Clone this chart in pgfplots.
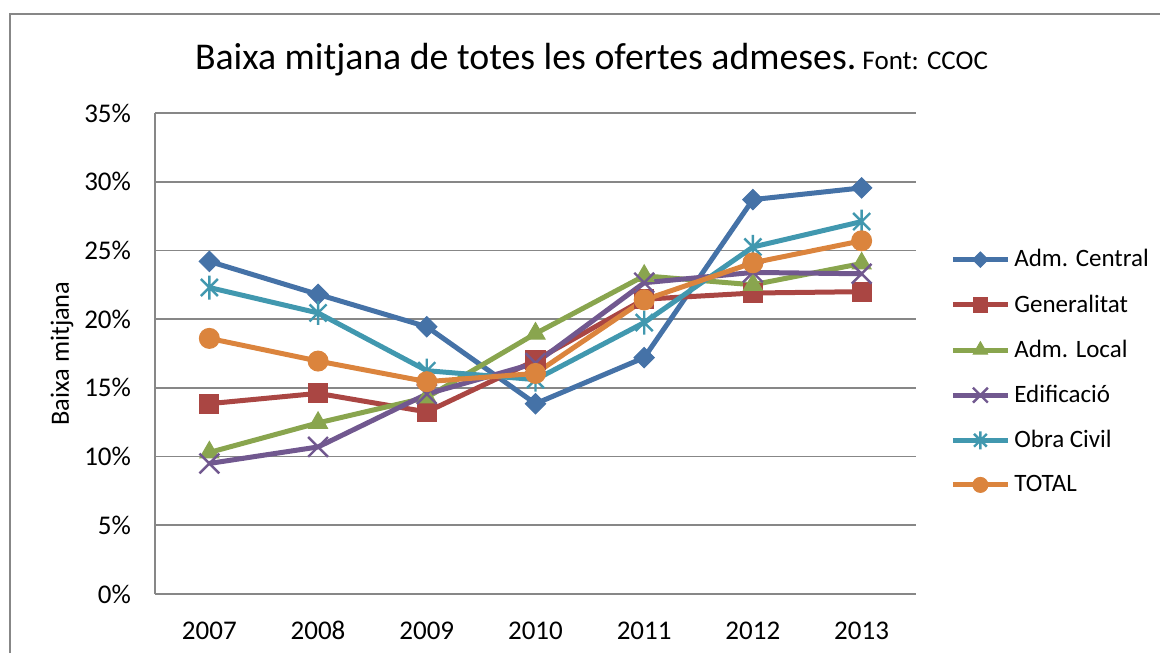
\documentclass[border=0pt]{standalone}
\usepackage{pgfplots}
\pgfplotsset{compat=1.18}
\usepackage{fontspec}
\setmainfont{Carlito}
\definecolor{cA}{HTML}{4572A7}
\definecolor{cB}{HTML}{AA4643}
\definecolor{cC}{HTML}{89A54E}
\definecolor{cD}{HTML}{71588F}
\definecolor{cE}{HTML}{4198AF}
\definecolor{cF}{HTML}{DB843D}
\definecolor{gridc}{HTML}{878787}
\pgfdeclareplotmark{xstar}{%
  \pgfpathmoveto{\pgfqpoint{-.7071\pgfplotmarksize}{-.7071\pgfplotmarksize}}%
  \pgfpathlineto{\pgfqpoint{.7071\pgfplotmarksize}{.7071\pgfplotmarksize}}%
  \pgfpathmoveto{\pgfqpoint{-.7071\pgfplotmarksize}{.7071\pgfplotmarksize}}%
  \pgfpathlineto{\pgfqpoint{.7071\pgfplotmarksize}{-.7071\pgfplotmarksize}}%
  \pgfpathmoveto{\pgfqpoint{0pt}{-\pgfplotmarksize}}%
  \pgfpathlineto{\pgfqpoint{0pt}{\pgfplotmarksize}}%
  \pgfusepathqstroke}
\begin{document}
\begin{tikzpicture}
\path[use as bounding box] (0pt,0pt) rectangle (580pt,326.5pt);
\draw[gridc, line width=0.8pt] (5pt,0pt) -- (5pt,319.5pt) -- (580pt,319.5pt);
\node[anchor=base, inner sep=0pt] at (295.75pt,291.5pt) {\fontsize{18.9}{22}\selectfont Baixa mitjana de totes les ofertes admeses.{\fontsize{13.5}{16}\selectfont\ Font: CCOC}};
\begin{axis}[
  at={(77.5pt,29.5pt)}, anchor=south west,
  scale only axis, width=380.5pt, height=240.5pt,
  xmin=2006.5, xmax=2013.5, ymin=0, ymax=35,
  xtick={2007,...,2013}, ytick={0,5,...,35},
  axis x line*=bottom, axis y line*=left,
  axis line style={gridc, line width=0.8pt},
  major tick length=0pt,
  ymajorgrids, grid style={gridc, line width=0.8pt},
  /pgf/number format/assume math mode=true,
  /pgf/number format/1000 sep={},
  ticklabel style={font=\fontsize{13.5}{16}\selectfont},
  yticklabel={\pgfmathprintnumber{\tick}\%},
  yticklabel style={xshift=-8.5pt},
  xticklabel style={yshift=-10pt, text height=9pt, text depth=0pt},
  ylabel={Baixa mitjana},
  ylabel style={font=\fontsize{13.2}{15}\selectfont, at={(axis description cs:-0.1222,0.5)}, anchor=center},
  every axis plot/.append style={line width=2.5pt, mark options={solid}},
  legend cell align=left,
  legend style={draw=none, fill=none, at={(1,0.4615)}, anchor=west, xshift=17pt,
    font=\fontsize{12.5}{15}\selectfont, row sep=8.4pt, inner sep=0pt},
  legend image code/.code={\draw[mark repeat=2, mark phase=2, every mark/.append style={scale=0.75}] plot coordinates {(0pt,0pt) (13.75pt,0pt) (27.5pt,0pt)};},
]
\addplot[cA, mark=square*, mark size=3.6pt, mark options={rotate=45, line width=0.5pt}] coordinates {
(2007,24.2) (2008,21.8) (2009,19.45) (2010,13.85) (2011,17.2) (2012,28.7) (2013,29.55)};
\addlegendentry{Adm. Central}
\addplot[cB, mark=square*, mark size=4.8pt, mark options={line width=0.5pt}] coordinates {
(2007,13.85) (2008,14.6) (2009,13.25) (2010,17.0) (2011,21.45) (2012,21.9) (2013,22.0)};
\addlegendentry{Generalitat}
\addplot[cC, mark=triangle*, mark size=5.5pt, mark options={line width=0.5pt}] coordinates {
(2007,10.3) (2008,12.45) (2009,14.3) (2010,18.95) (2011,23.15) (2012,22.5) (2013,24.05)};
\addlegendentry{Adm. Local}
\addplot[cD, mark=x, mark size=7pt, mark options={line width=1.2pt}] coordinates {
(2007,9.5) (2008,10.7) (2009,14.55) (2010,16.8) (2011,22.65) (2012,23.4) (2013,23.3)};
\addlegendentry{Edificació}
\addplot[cE, mark=xstar, mark size=6pt, mark options={line width=1.2pt}] coordinates {
(2007,22.3) (2008,20.45) (2009,16.25) (2010,15.6) (2011,19.75) (2012,25.25) (2013,27.1)};
\addlegendentry{Obra Civil}
\addplot[cF, mark=*, mark size=5pt, mark options={line width=0.5pt}] coordinates {
(2007,18.6) (2008,16.95) (2009,15.45) (2010,16.05) (2011,21.4) (2012,24.1) (2013,25.7)};
\addlegendentry{TOTAL}
\end{axis}
\end{tikzpicture}
\end{document}
